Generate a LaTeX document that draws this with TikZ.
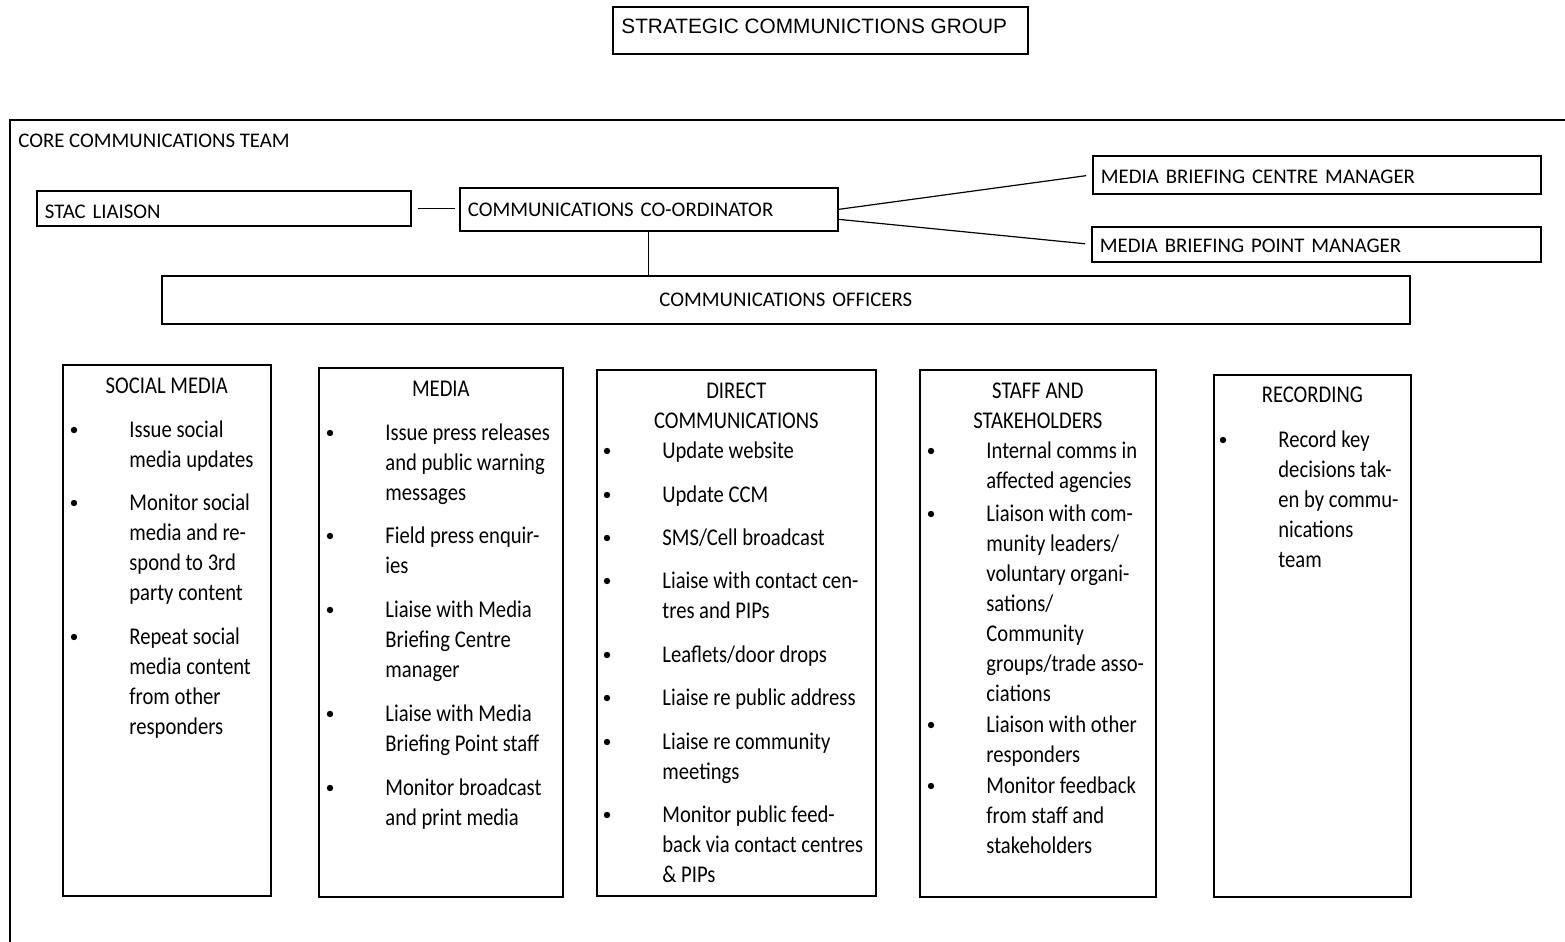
\documentclass[tikz,border=0pt]{standalone}
\usepackage{fontspec}
\setmainfont{Carlito}
\newfontfamily\groupfont{Liberation Sans}
\newfontfamily\colfont{Carlito}[FakeStretch=0.86]
\usetikzlibrary{positioning}

\newcommand{\headsize}{\fontsize{10.4pt}{12.5pt}\selectfont}
\newcommand{\colsize}{\colfont\fontsize{12pt}{15pt}\selectfont}

\tikzset{
  rolebox/.style={draw, line width=0.85pt, anchor=north west, inner xsep=4pt, inner ysep=0pt, align=left, font=\headsize},
  colbox/.style={draw, line width=0.85pt, anchor=north west, inner sep=0pt},
  coltitle/.style={anchor=north, align=center, inner sep=0pt, font=\colsize},
  itemtext/.style={anchor=north west, align=left, inner sep=0pt, font=\colsize},
  dot/.style={circle, fill, inner sep=0pt, minimum size=3.2pt},
  link/.style={line width=0.6pt},
  frame/.style={line width=1.1pt}
}

% bullet + text: name, bullet x, baseline y, text
\newcommand{\listitem}[4]{%
  \node[dot] (#1dot) at (#2,#3-7) {};
  \node[itemtext] (#1) at (#2+55,#3-21) {\strut #4};
}

\begin{document}
\begin{tikzpicture}[x=0.5pt, y=-0.5pt]
  \useasboundingbox (0,0) rectangle (1565,942);

  % Strategic group
  \node[draw, line width=0.85pt, anchor=north west, inner sep=0pt,
        minimum width=207.5pt, minimum height=23.5pt] (sgroup) at (612,6) {};
  \node[anchor=base west, inner sep=0pt, font=\groupfont\headsize] (sgrouplbl) at (621,33.5) {STRATEGIC COMMUNICTIONS GROUP};

  % Core team frame
  \draw[frame] (10,942) -- (10,120) -- (1565,120);
  \node[anchor=base west, inner sep=0pt, font=\headsize] (coretitle) at (18,147.5) {CORE COMMUNICATIONS TEAM};

  % Roles
  \node[rolebox, text width=179pt, minimum height=17.5pt] (stac) at (36,190) {\rule{0pt}{10pt}STAC LIAISON};
  \node[rolebox, text width=181pt, minimum height=21.5pt] (coord) at (459,187) {COMMUNICATIONS CO-ORDINATOR};
  \node[rolebox, text width=216pt, minimum height=19pt] (mbcm) at (1092,155) {\rule{0pt}{8.5pt}MEDIA BRIEFING CENTRE MANAGER};
  \node[rolebox, text width=216.5pt, minimum height=17.5pt] (mbpm) at (1091,226) {\rule{0pt}{8.5pt}MEDIA BRIEFING POINT MANAGER};
  \node[rolebox, align=center, text width=616pt, minimum height=24pt] (officers) at (161,275) {COMMUNICATIONS OFFICERS};

  % Connections
  \draw[link, shorten <=3pt, shorten >=2pt] (stac.east) -- (stac.east -| coord.west);
  \draw[link] (coord.south) -- (coord.south |- officers.north);
  \draw[link, shorten >=3pt] (coord.east) -- (mbcm.west);
  \draw[link, shorten >=3pt] ([yshift=-5pt]coord.east) -- (mbpm.west);

  % Work streams
  \node[colbox, minimum width=104pt, minimum height=265.5pt] (socialbox) at (62,364) {};
  \node[colbox, minimum width=122pt, minimum height=264.5pt] (mediabox) at (318,367) {};
  \node[colbox, minimum width=139.5pt, minimum height=263pt] (directbox) at (596,369) {};
  \node[colbox, minimum width=118pt, minimum height=263.5pt] (staffbox) at (919,369) {};
  \node[colbox, minimum width=98.5pt, minimum height=261pt] (recordbox) at (1213,374) {};

  \node[coltitle] (socialtitle) at ([yshift=-4pt]socialbox.north) {\strut SOCIAL MEDIA};
  \node[coltitle] (mediatitle) at ([yshift=-4pt]mediabox.north) {\strut MEDIA};
  \node[coltitle] (directtitle) at ([yshift=-4pt]directbox.north) {\strut DIRECT\\COMMUNICATIONS};
  \node[coltitle] (stafftitle) at ([yshift=-4pt]staffbox.north) {\strut STAFF AND\\STAKEHOLDERS};
  \node[coltitle] (recordtitle) at ([yshift=-3.5pt]recordbox.north) {\strut RECORDING};

  % Social media
  \listitem{sm1}{74}{437}{Issue social\\media updates}
  \listitem{sm2}{74}{510}{Monitor social\\media and re-\\spond to 3rd\\party content}
  \listitem{sm3}{74}{644}{Repeat social\\media content\\from other\\responders}

  % Media
  \listitem{md1}{330}{440}{Issue press releases\\and public warning\\messages}
  \listitem{md2}{330}{543}{Field press enquir-\\ies}
  \listitem{md3}{330}{617}{Liaise with Media\\Briefing Centre\\manager}
  \listitem{md4}{330}{721}{Liaise with Media\\Briefing Point staff}
  \listitem{md5}{330}{795}{Monitor broadcast\\and print media}

  % Direct communications
  \listitem{dc1}{607}{458}{Update website}
  \listitem{dc2}{607}{502}{Update CCM}
  \listitem{dc3}{607}{545}{SMS/Cell broadcast}
  \listitem{dc4}{607}{588}{Liaise with contact cen-\\tres and PIPs}
  \listitem{dc5}{607}{662}{Leaflets/door drops}
  \listitem{dc6}{607}{705}{Liaise re public address}
  \listitem{dc7}{607}{749}{Liaise re community\\meetings}
  \listitem{dc8}{607}{822}{Monitor public feed-\\back via contact centres\\\& PIPs}

  % Staff and stakeholders
  \listitem{st1}{931}{458}{Internal comms in\\affected agencies}
  \listitem{st2}{931}{521}{Liaison with com-\\munity leaders/\\voluntary organi-\\sations/\\Community\\groups/trade asso-\\ciations}
  \listitem{st3}{931}{732}{Liaison with other\\responders}
  \listitem{st4}{931}{793}{Monitor feedback\\from staff and\\stakeholders}

  % Recording
  \listitem{rc1}{1223}{447}{Record key\\decisions tak-\\en by commu-\\nications\\team}
\end{tikzpicture}
\end{document}
